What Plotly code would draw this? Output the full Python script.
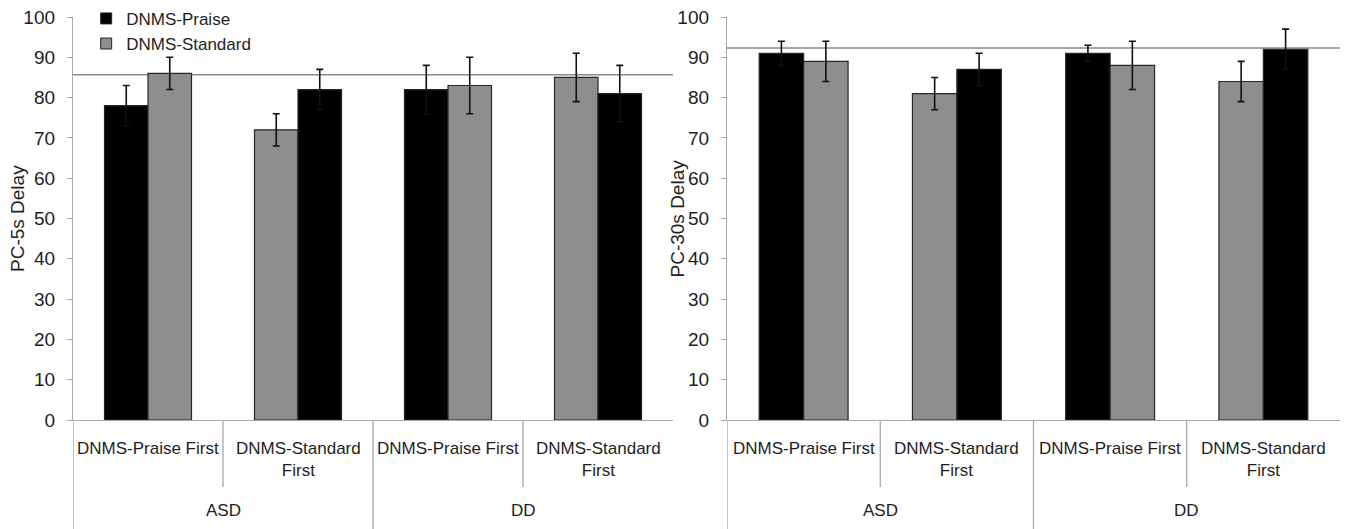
import plotly.graph_objects as go

# ---------------- data ----------------
groups = ["ASD", "ASD", "DD", "DD"]
orders = ["DNMS-Praise First", "DNMS-Standard<br>First", "DNMS-Praise First", "DNMS-Standard<br>First"]
first_condition = ["Praise", "Standard", "Praise", "Standard"]

praise_5s = [78, 82, 82, 81]
praise_5s_err = [5, 5, 6, 7]
standard_5s = [86, 72, 83, 85]
standard_5s_err = [4, 4, 7, 6]
ref_5s = 85.7

praise_30s = [91, 87, 91, 92]
praise_30s_err = [3, 4, 2, 5]
standard_30s = [89, 81, 88, 84]
standard_30s_err = [5, 4, 6, 5]
ref_30s = 92.3

y_titles = ["PC-5s Delay", "PC-30s Delay"]
y_ticks = list(range(0, 101, 10))

# ---------------- styles ----------------
colors = {"Praise": "#000000", "Standard": "#8e8e8e"}
legend_names = {"Praise": "DNMS-Praise", "Standard": "DNMS-Standard"}
axis_grey = "#a8a8a8"
text_col = "#1e1e1e"
FONT = "Liberation Sans, Arial, sans-serif"
W, H = 1368, 529
PLOT_H = 403.0  # plot-area height in px

fig = go.Figure()
pos = list(range(len(orders)))

panels = [
    (praise_5s, praise_5s_err, standard_5s, standard_5s_err, ref_5s, "x", "y", y_titles[0], 17.5),
    (praise_30s, praise_30s_err, standard_30s, standard_30s_err, ref_30s, "x2", "y2", y_titles[1], 677),
]

for (pv, pe, sv, se, ref, xa, ya, ytitle, title_px) in panels:
    # split into first-session (left) and second-session (right) bars
    left_v, left_e, left_c, right_v, right_e, right_c = [], [], [], [], [], []
    for i, fc in enumerate(first_condition):
        if fc == "Praise":
            left_v.append(pv[i]); left_e.append(pe[i]); left_c.append(colors["Praise"])
            right_v.append(sv[i]); right_e.append(se[i]); right_c.append(colors["Standard"])
        else:
            left_v.append(sv[i]); left_e.append(se[i]); left_c.append(colors["Standard"])
            right_v.append(pv[i]); right_e.append(pe[i]); right_c.append(colors["Praise"])
    for vals, errs, cols in [(left_v, left_e, left_c), (right_v, right_e, right_c)]:
        fig.add_trace(go.Bar(
            x=pos, y=vals, xaxis=xa, yaxis=ya, showlegend=False,
            marker=dict(color=cols, line=dict(color="#262626", width=1.2)),
            error_y=dict(type="data", array=errs, visible=True, color="#111111",
                         thickness=1.6, width=3.5),
        ))
    # reference line
    fig.add_shape(type="line", xref=f"{xa} domain", yref=ya, x0=0, x1=1, y0=ref, y1=ref,
                  line=dict(color="#8a8a8a", width=1.5), layer="below")
    # y-axis title
    fig.add_annotation(x=title_px / W, xref="paper", y=0.5, yref=f"{ya} domain",
                       text=ytitle, textangle=-90, showarrow=False,
                       xanchor="center", yanchor="middle",
                       font=dict(size=19, color=text_col, family=FONT))
    # inner category labels
    for i, lab in enumerate(orders):
        fig.add_annotation(x=i, y=0, xref=xa, yref=f"{ya} domain", text=lab,
                           showarrow=False, yanchor="top", yshift=-17,
                           font=dict(size=17, color=text_col, family=FONT))
    # group labels and dividers
    uniq = []
    for g in groups:
        if g not in uniq:
            uniq.append(g)
    for g in uniq:
        idx = [i for i, gg in enumerate(groups) if gg == g]
        fig.add_annotation(x=(idx[0] + idx[-1]) / 2, y=0, xref=xa, yref=f"{ya} domain",
                           text=g, showarrow=False, yanchor="middle", yshift=-90,
                           font=dict(size=17, color=text_col, family=FONT))
        # full-height divider at group start
        fig.add_shape(type="line", xref=xa, yref=f"{ya} domain", x0=idx[0] - 0.5, x1=idx[0] - 0.5,
                      y0=0, y1=-109 / PLOT_H, line=dict(color=axis_grey, width=1.3))
        # short dividers between orders inside group
        for j in idx[1:]:
            fig.add_shape(type="line", xref=xa, yref=f"{ya} domain", x0=j - 0.5, x1=j - 0.5,
                          y0=0, y1=-67 / PLOT_H, line=dict(color=axis_grey, width=1.3))

# legend entries
for cond in ["Praise", "Standard"]:
    fig.add_trace(go.Scatter(x=[None], y=[None], name=legend_names[cond], mode="markers",
                             marker=dict(symbol="square", size=11, color=colors[cond],
                                         line=dict(color="#262626", width=1)),
                             showlegend=True))

yaxis_common = dict(range=[0, 100], tickvals=y_ticks, showgrid=False, zeroline=False,
                    showline=True, linecolor=axis_grey, linewidth=1.3,
                    ticks="outside", ticklen=5, tickcolor=axis_grey, automargin=False,
                    ticklabelstandoff=8,
                    tickfont=dict(size=19, color=text_col, family=FONT))
xaxis_common = dict(range=[-0.5, len(orders) - 0.5], showline=True, linecolor=axis_grey,
                    linewidth=1.3, showgrid=False, ticks="", showticklabels=False,
                    zeroline=False, automargin=False)

fig.update_layout(
    width=W, height=H,
    margin=dict(l=0, r=0, t=17, b=109),
    paper_bgcolor="white", plot_bgcolor="white",
    barmode="group", bargap=0.42, bargroupgap=0,
    font=dict(family=FONT, color=text_col),
    xaxis=dict(domain=[73 / W, 673 / W], anchor="y", **xaxis_common),
    yaxis=dict(domain=[0, 1], anchor="x", **yaxis_common),
    xaxis2=dict(domain=[727 / W, 1340 / W], anchor="y2", **xaxis_common),
    yaxis2=dict(domain=[0, 1], anchor="x2", **yaxis_common),
    legend=dict(x=0.063, y=1.04, xanchor="left", yanchor="top", bgcolor="rgba(0,0,0,0)",
                font=dict(size=17, color=text_col, family=FONT), tracegroupgap=0),
)

fig.write_html("out.html", config={"displayModeBar": False},
               post_script="document.body.style.margin='0';")
